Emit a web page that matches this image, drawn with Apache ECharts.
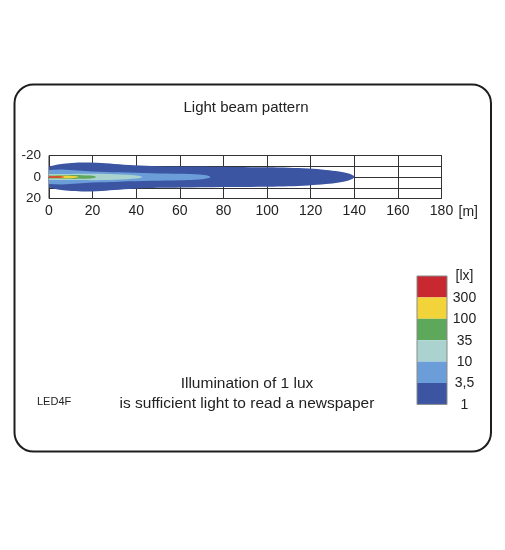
<!DOCTYPE html>
<html>
<head>
<meta charset="utf-8">
<script src="https://cdn.jsdelivr.net/npm/echarts@6/dist/echarts.min.js"></script>
<style>
  html, body { margin: 0; padding: 0; background: #fff; }
  #chart { width: 505px; height: 550px; }
</style>
</head>
<body>
<div id="chart"></div>
<script>
// Distance ticks along the beam [m] and lateral spread ticks [m]
const distanceTicks = [0, 20, 40, 60, 80, 100, 120, 140, 160, 180];
const spreadTicks = [-20, 0, 20];

// Iso-lux contours: [distance m, half width m] along the upper edge of each zone
const contour1 = [[-3, 9.5], [0, 9.8], [4, 11.6], [9, 12.9], [15, 13.5], [22, 13.2], [30, 12.1], [39, 10.9], [50, 10.1], [65, 9.7], [85, 9.4], [100, 9.1], [110, 8.6], [119, 7.8], [127, 6.6], [133, 5.1], [137, 3.4], [139.3, 1.6], [140, 0]];
const contour3_5 = [[-3, 6.3], [0, 6.6], [6, 7], [13, 6.1], [20, 5.2], [32, 4.4], [47, 3.6], [60, 3], [67, 2.5], [71, 1.8], [73.3, 1], [74, 0]];
const contour10 = [[-3, 2.6], [0, 2.7], [10, 2.9], [22, 3], [30, 2.6], [36, 2], [40, 1.4], [42, 0.8], [42.8, 0]];
const contour35 = [[-3, 1.5], [0, 1.5], [8, 1.7], [15, 1.7], [19, 1.3], [21, 0.7], [21.6, 0]];
const contour100 = [[-3, 1.0], [0, 1.0], [7, 1.05], [11, 0.85], [13, 0.5], [13.6, 0]];
const contour300 = [[-3, 0.6], [0, 0.6], [4, 0.6], [6, 0.45], [7, 0]];

const zoneContours = [contour1, contour3_5, contour10, contour35, contour100, contour300];
const zoneColors = ['#3b55a3', '#6b9ed9', '#aad3d0', '#5ea85b', '#f2d33a', '#c8282f'];

// Legend scale, top to bottom
const legendColors = ['#c8282f', '#f2d33a', '#5ea85b', '#aad3d0', '#6b9ed9', '#3b55a3'];
const legendLabels = ['[lx]', '300', '100', '35', '10', '3,5', '1'];

const fontFamily = '"Liberation Sans", Arial, sans-serif';
const inkColor = '#222';

function zoneRenderer(contour, color) {
  return function (params, api) {
    if (params.dataIndex !== 0) return null;
    const upper = contour.map(p => api.coord([p[0], -p[1]]));
    const back = contour.slice().reverse();
    const lower = (back[0][1] === 0 ? back.slice(1) : back).map(p => api.coord([p[0], p[1]]));
    return {
      type: 'polygon',
      shape: { points: upper.concat(lower), smooth: 0.35 },
      style: { fill: color }
    };
  };
}

const zoneSeries = zoneContours.map((contour, i) => ({
  type: 'custom',
  name: legendLabels[legendLabels.length - 1 - i],
  coordinateSystem: 'cartesian2d',
  clip: true,
  silent: true,
  renderItem: zoneRenderer(contour, zoneColors[i]),
  data: contour,
  z: 2 + i
}));

// Legend: stacked colour swatches with the threshold labels on their edges
const swatchX = 417, swatchTop = 276, swatchW = 30, swatchH = 21.4;
const legendGraphics = [];
legendColors.forEach((c, i) => {
  legendGraphics.push({
    type: 'rect',
    shape: { x: swatchX, y: swatchTop + i * swatchH, width: swatchW, height: swatchH },
    style: { fill: c }
  });
});
legendGraphics.push({
  type: 'rect',
  shape: { x: swatchX, y: swatchTop, width: swatchW, height: swatchH * legendColors.length },
  style: { fill: 'none', stroke: '#8a8a8a', lineWidth: 1 }
});
legendLabels.forEach((t, i) => {
  legendGraphics.push({
    type: 'text',
    x: 464.5,
    y: swatchTop + i * swatchH + 0.5,
    style: {
      text: t, font: '14px ' + fontFamily, fill: inkColor,
      align: 'center', verticalAlign: 'middle'
    }
  });
});

const option = {
  animation: false,
  backgroundColor: '#fff',
  grid: {
    left: 49, right: 63.5, top: 155.5, height: 43,
    show: true, borderColor: '#333', borderWidth: 1, backgroundColor: 'transparent'
  },
  xAxis: {
    type: 'value',
    min: distanceTicks[0],
    max: distanceTicks[distanceTicks.length - 1],
    interval: 20,
    axisLine: { show: true, lineStyle: { color: '#333', width: 1 } },
    axisTick: { show: false },
    axisLabel: {
      margin: 6, fontFamily: fontFamily, fontSize: 14, color: inkColor,
      formatter: v => distanceTicks.includes(v) ? String(v) : ''
    },
    splitLine: { show: true, lineStyle: { color: '#333', width: 1 } }
  },
  yAxis: {
    type: 'value',
    inverse: true,
    min: -20,
    max: 20,
    interval: 10,
    axisLine: { show: true, lineStyle: { color: '#333', width: 1 } },
    axisTick: { show: false },
    axisLabel: {
      margin: 8, fontFamily: fontFamily, fontSize: 13.5, color: inkColor,
      formatter: v => spreadTicks.includes(v) ? String(v) : ''
    },
    splitLine: { show: true, lineStyle: { color: '#333', width: 1 } }
  },
  series: zoneSeries,
  graphic: [
    {
      type: 'rect',
      shape: { x: 14.5, y: 84.5, width: 476.5, height: 367, r: 19 },
      style: { fill: 'none', stroke: '#1e1e1e', lineWidth: 2 }
    },
    {
      type: 'text', x: 246, y: 108,
      style: {
        text: 'Light beam pattern', font: '15px ' + fontFamily, fill: inkColor,
        align: 'center', verticalAlign: 'middle'
      }
    },
    {
      type: 'text', x: 458.5, y: 212,
      style: {
        text: '[m]', font: '14px ' + fontFamily, fill: inkColor,
        align: 'left', verticalAlign: 'middle'
      }
    },
    {
      type: 'text', x: 247, y: 393.5,
      style: {
        text: 'Illumination of 1 lux\nis sufficient light to read a newspaper',
        font: '15.5px ' + fontFamily, fill: inkColor, lineHeight: 20,
        align: 'center', verticalAlign: 'middle'
      }
    },
    {
      type: 'text', x: 37, y: 402,
      style: {
        text: 'LED4F', font: '11px ' + fontFamily, fill: inkColor,
        align: 'left', verticalAlign: 'middle'
      }
    }
  ].concat(legendGraphics)
};

const chart = echarts.init(document.getElementById('chart'), null, { renderer: 'canvas' });
chart.setOption(option);
</script>
</body>
</html>
